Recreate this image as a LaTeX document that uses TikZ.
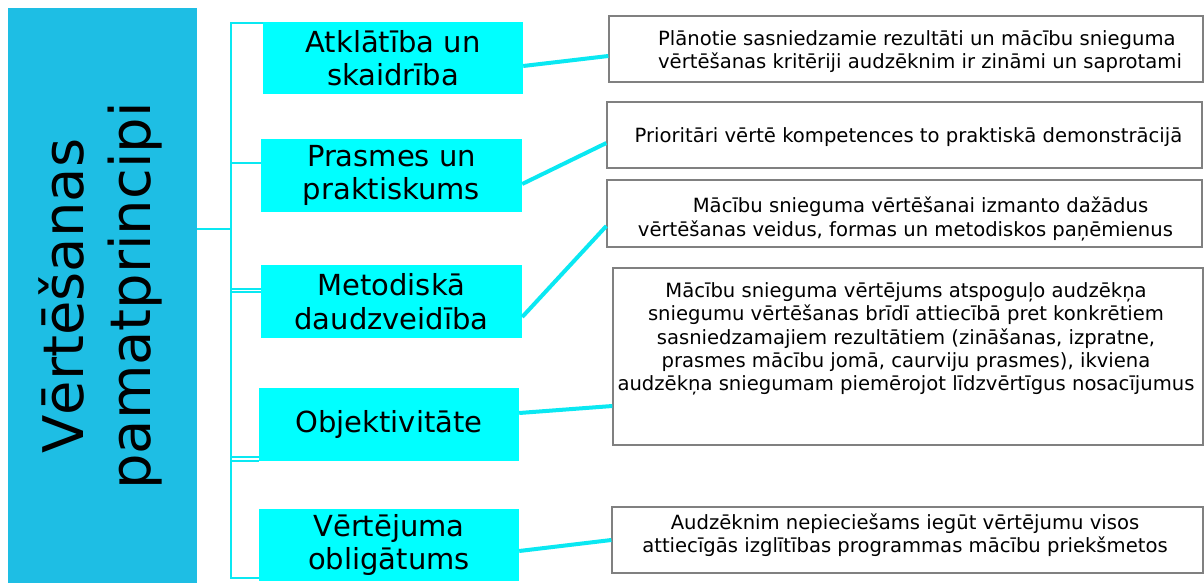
\documentclass[tikz,border=0pt]{standalone}
\usepackage{fontspec}
\setmainfont{DejaVu Sans}
\usetikzlibrary{calc}
\definecolor{titleblue}{RGB}{30,190,228}
\definecolor{boxcyan}{RGB}{0,255,255}
\definecolor{linecyan}{RGB}{10,232,242}
\definecolor{edgegray}{RGB}{128,128,128}
\begin{document}
\begin{tikzpicture}[x=1pt,y=-1pt,
  titlebox/.style={fill=titleblue, draw=none, inner sep=0pt, minimum width=189pt, minimum height=575pt},
  cbox/.style={fill=boxcyan, draw=none, inner sep=0pt, align=center, font=\fontsize{29}{33.5}\selectfont},
  tbox/.style={draw=edgegray, line width=1.3pt, fill=white, inner sep=0pt},
  ttext/.style={inner sep=0pt, font=\fontsize{19.6}{23.2}\selectfont},
  conn/.style={draw=linecyan, line width=4pt},
  brk/.style={draw=linecyan, line width=2pt}]
\useasboundingbox (0,0) rectangle (1204,583);
\fill[white] (0,0) rectangle (1204,583);
% title
\node[titlebox] (title) at (102.5,295.5) {};
\node[rotate=90, align=center, inner sep=0pt, font=\fontsize{56}{67}\selectfont] (ttl) at (100.8,296) {Vērtēšanas\\pamatprincipi};
% principle boxes
\node[cbox, minimum width=260pt, minimum height=72pt] (b1) at (393,58) {Atklātība un\\skaidrība};
\node[cbox, minimum width=261pt, minimum height=73pt] (b2) at (391.5,175.5) {Prasmes un\\praktiskums};
\node[cbox, minimum width=261pt, minimum height=73pt] (b3) at (391.5,301.5) {Metodiskā\\daudzveidība};
\node[cbox, minimum width=260pt, minimum height=73pt] (b4) at (389,424.5) {Objektivitāte};
\node[cbox, minimum width=260pt, minimum height=72pt] (b5) at (389,545) {Vērtējuma\\obligātums};
% description boxes
\node[tbox, minimum width=594pt, minimum height=66pt] (t1) at (906,49) {};
\node[tbox, minimum width=595pt, minimum height=66pt] (t2) at (904.5,135) {};
\node[tbox, minimum width=595pt, minimum height=67pt] (t3) at (904.5,213.5) {};
\node[tbox, minimum width=590pt, minimum height=177pt] (t4) at (908,356.5) {};
\node[tbox, minimum width=591pt, minimum height=66pt] (t5) at (907.5,540) {};
\node[ttext, align=left] (x1) at (920,51.5) {Plānotie sasniedzamie rezultāti un mācību snieguma\\vērtēšanas kritēriji audzēknim ir zināmi un saprotami};
\node[ttext] (x2) at (908.5,137) {Prioritāri vērtē kompetences to praktiskā demonstrācijā};
\node[ttext, align=center] (x3) at (905.5,219) {\hspace*{30pt}Mācību snieguma vērtēšanai izmanto dažādus\\vērtēšanas veidus, formas un metodiskos paņēmienus};
\node[ttext, align=center] (x4) at (906,339) {Mācību snieguma vērtējums atspoguļo audzēkņa\\sniegumu vērtēšanas brīdī attiecībā pret konkrētiem\\sasniedzamajiem rezultātiem (zināšanas, izpratne,\\prasmes mācību jomā, caurviju prasmes), ikviena\\audzēkņa sniegumam piemērojot līdzvērtīgus nosacījumus};
\node[ttext, align=center] (x5) at (905,535) {Audzēknim nepieciešams iegūt vērtējumu visos\\attiecīgās izglītības programmas mācību priekšmetos};
% connectors
\draw[conn] ([yshift=-8pt]b1.east) -- ([yshift=-7pt]t1.west);
\draw[conn] ([yshift=-8.5pt]b2.east) -- ([yshift=-8pt]t2.west);
\draw[conn] ([yshift=-15.5pt]b3.east) -- ([yshift=-12.5pt]t3.west);
\draw[conn] ([yshift=11.5pt]b4.east) -- ([yshift=-49.5pt]t4.west);
\draw[conn] ([yshift=-6pt]b5.east) -- (t5.west);
% bracket
\coordinate (kt) at (231,23);
\coordinate (kb) at (231,578);
\coordinate (k2) at (231,163);
\coordinate (k3a) at (231,288.5);
\coordinate (k3b) at (231,292);
\coordinate (k4a) at (231,457);
\coordinate (k4b) at (231,461);
\coordinate (km) at (231,229);
\draw[brk] (kt -| b1.west) -- (kt) -- (kb) -- (kb -| b5.west);
\draw[brk] (k2) -- (k2 -| b2.west);
\draw[brk] (k3a) -- (k3a -| b3.west);
\draw[brk] (k3b) -- (k3b -| b3.west);
\draw[brk] (k4a) -- (k4a -| b4.west);
\draw[brk] (k4b) -- (k4b -| b4.west);
\draw[brk] (km -| title.east) -- (km);
\end{tikzpicture}
\end{document}
